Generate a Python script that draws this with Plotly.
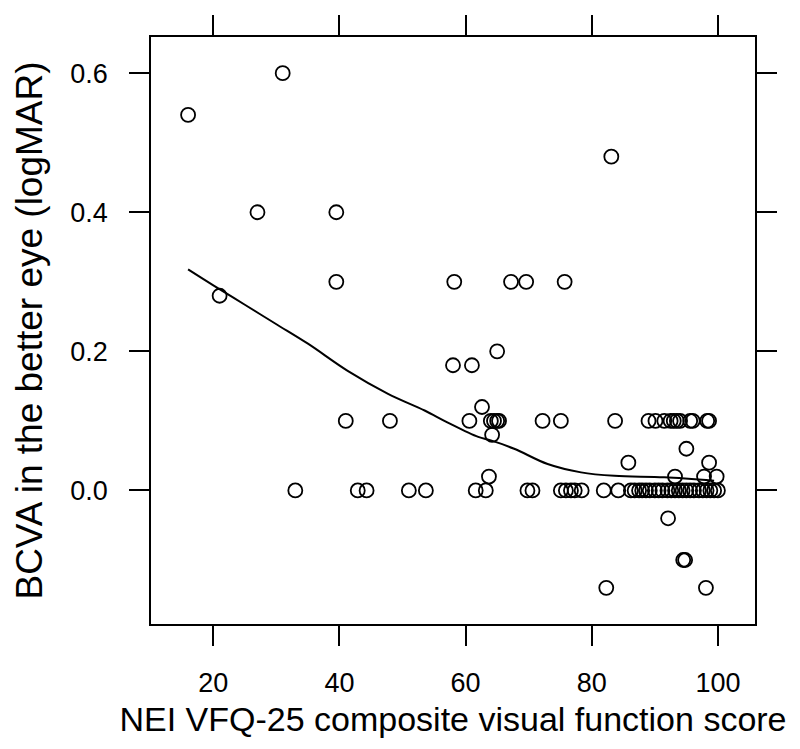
import plotly.graph_objects as go

# NEI VFQ-25 composite score (x) vs BCVA in the better eye (logMAR, y)
vfq_score = [
    16, 21, 27, 31, 39.5, 39.5, 58.2, 58.0, 61.0, 62.6, 65.0,
    41, 48, 60.6, 64.0, 64.5, 65.0, 65.3, 72.2, 75.1, 83.7,
    89.0, 90.1, 91.5, 92.5, 93.0, 93.5, 94.0, 95.6, 96.0, 98.3, 98.6,
    64.2, 95.0, 85.8, 98.6, 63.7, 93.2, 97.8, 99.8,
    33, 42.9, 44.3, 51.0, 53.7, 61.6, 63.2, 69.8, 70.6,
    75.1, 75.9, 76.7, 77.3, 78.4, 81.9, 84.2, 86.2,
    86.8, 87.5, 88.0, 88.6, 89.2, 90.0, 90.6, 91.2, 92.0, 92.6, 93.2,
    93.8, 94.4, 95.0, 95.6, 96.2, 97.0, 97.6, 98.2, 98.8, 99.4, 100,
    92.1, 94.5, 94.8, 82.3, 98.1,
    83.1, 67.2, 69.6, 75.7,
]
bcva_logmar = [
    0.54, 0.28, 0.40, 0.60, 0.40, 0.30, 0.30, 0.18, 0.18, 0.12, 0.20,
    0.10, 0.10, 0.10, 0.10, 0.10, 0.10, 0.10, 0.10, 0.10, 0.10,
    0.10, 0.10, 0.10, 0.10, 0.10, 0.10, 0.10, 0.10, 0.10, 0.10, 0.10,
    0.08, 0.06, 0.04, 0.04, 0.02, 0.02, 0.02, 0.02,
    0.0, 0.0, 0.0, 0.0, 0.0, 0.0, 0.0, 0.0, 0.0,
    0.0, 0.0, 0.0, 0.0, 0.0, 0.0, 0.0, 0.0,
    0.0, 0.0, 0.0, 0.0, 0.0, 0.0, 0.0, 0.0, 0.0, 0.0, 0.0,
    0.0, 0.0, 0.0, 0.0, 0.0, 0.0, 0.0, 0.0, 0.0, 0.0, 0.0,
    -0.04, -0.10, -0.10, -0.14, -0.14,
    0.48, 0.30, 0.30, 0.30,
]

# Smoothed (loess) curve
smooth_x = [16, 20, 25, 30, 35, 41.3, 47.7, 53.5, 57.1, 62, 64, 67.7, 73, 78.3, 83.6, 91.5, 99.4]
smooth_y = [0.318, 0.295, 0.267, 0.239, 0.211, 0.172, 0.139, 0.115, 0.098, 0.077, 0.072,
            0.060, 0.038, 0.026, 0.021, 0.019, 0.014]

x_ticks = [20, 40, 60, 80, 100]
y_ticks = [0.0, 0.2, 0.4, 0.6]
y_tick_labels = ["0.0", "0.2", "0.4", "0.6"]

FONT = "Liberation Sans, Arial, sans-serif"

fig = go.Figure()
fig.add_trace(go.Scatter(
    x=vfq_score, y=bcva_logmar, mode="markers",
    marker=dict(symbol="circle-open", size=14, color="black", line=dict(width=1.8, color="black")),
    showlegend=False, hoverinfo="x+y",
))
fig.add_trace(go.Scatter(
    x=smooth_x, y=smooth_y, mode="lines", line=dict(color="black", width=2, shape="spline"),
    showlegend=False, hoverinfo="skip",
))

axis_common = dict(
    showline=True, linecolor="black", linewidth=1.8, mirror="ticks",
    ticks="outside", ticklen=20, tickwidth=1.6, tickcolor="black",
    showgrid=False, zeroline=False,
    tickfont=dict(family=FONT, size=27, color="black"),
)

fig.update_xaxes(
    range=[10.12, 105.88], tickvals=x_ticks, ticktext=[str(t) for t in x_ticks],
    title=dict(text="NEI VFQ-25 composite visual function score",
               font=dict(family=FONT, size=34, color="black"), standoff=10),
    ticklabelstandoff=14,
    **axis_common,
)
fig.update_yaxes(
    range=[-0.192, 0.652], tickvals=y_ticks, ticktext=y_tick_labels,
    title=dict(text="BCVA in the better eye (logMAR)",
               font=dict(family=FONT, size=37, color="black"), standoff=16),
    ticklabelstandoff=16,
    **axis_common,
)

fig.update_layout(
    width=800, height=749,
    margin=dict(l=143, r=53, t=29, b=133, autoexpand=False),
    paper_bgcolor="white", plot_bgcolor="white",
    font=dict(family=FONT, color="black"),
)

fig.write_html("out.html")
